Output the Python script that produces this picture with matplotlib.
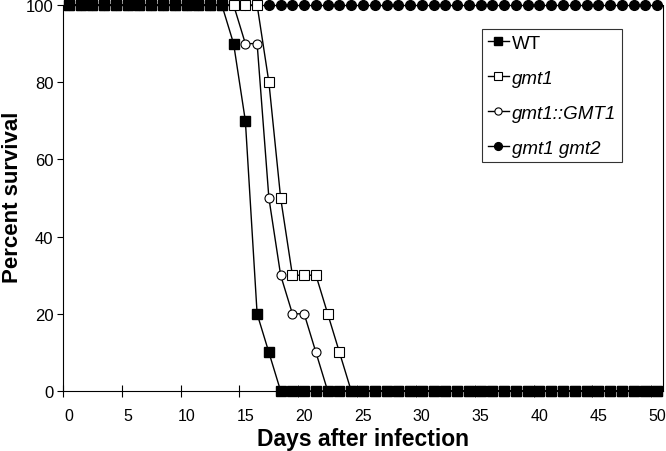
import numpy as np
import matplotlib.pyplot as plt
from matplotlib.ticker import FixedLocator

plt.rcParams['font.family'] = ['Liberation Sans', 'DejaVu Sans']

# dias 0..50 (categorias de Excel)
days = np.arange(0, 51)

# supervivencia (%)
wt = [100] * 14 + [90, 70, 20, 10] + [0] * 33
gmt1 = [100] * 17 + [80, 50, 30, 30, 30, 20, 10] + [0] * 27
gmt1_comp = [100] * 15 + [90, 90, 50, 30, 20, 20, 10] + [0] * 29
gmt1_gmt2 = [100] * 51

fig = plt.figure(figsize=(6.66, 4.52), dpi=100)
ax = fig.add_axes([0.0946, 0.1327, 0.9009, 0.854])

# orden de dibujo: WT queda encima
ax.plot(days, gmt1_gmt2, '-o', color='black', lw=1, ms=7, mfc='black',
        label='gmt1 gmt2', zorder=3, clip_on=False)
ax.plot(days, gmt1_comp, '-o', color='black', lw=1, ms=6.5, mfc='white',
        mew=0.8, label='gmt1::GMT1', zorder=4, clip_on=False)
ax.plot(days, gmt1, '-s', color='black', lw=1, ms=6.5, mfc='white',
        mew=0.8, label='gmt1', zorder=5, clip_on=False)
ax.plot(days, wt, '-s', color='black', lw=1, ms=7, mfc='black',
        label='WT', zorder=6, clip_on=False)

ax.set_xlim(-0.5, 50.5)
ax.set_ylim(0, 100)
ax.set_xticks(np.arange(0, 51, 5))
ax.tick_params(axis='x', which='major', length=0, pad=12, labelsize=11.5)
ax.xaxis.set_minor_locator(FixedLocator(np.arange(-0.5, 50, 5)))
ax.tick_params(axis='x', which='minor', direction='inout', length=8, width=0.8)
ax.set_yticks(np.arange(0, 101, 20))
ax.tick_params(axis='y', direction='out', length=4, width=0.8, labelsize=12,
               pad=3)

ax.spines['top'].set_visible(False)
for s in ['left', 'bottom', 'right']:
    ax.spines[s].set_linewidth(0.8)

ax.set_xlabel('Days after infection', fontsize=16.5, fontweight='bold', labelpad=3)
ax.set_ylabel('Percent survival', fontsize=16, fontweight='bold')
ax.yaxis.label.set_va('center')
ax.yaxis.set_label_coords(-0.084, 0.505)

handles, labels = ax.get_legend_handles_labels()
leg = ax.legend(handles[::-1], labels[::-1], loc='upper right',
                bbox_to_anchor=(0.932, 0.938), borderaxespad=0, fontsize=13.5,
                frameon=True, fancybox=False, edgecolor='black',
                handlelength=1.1, handletextpad=0.2, labelspacing=0.95,
                borderpad=0.3, markerscale=0.8)
leg.get_frame().set_linewidth(0.8)
for t in leg.get_texts()[1:]:
    t.set_style('italic')

fig.savefig('out.png', dpi=100)
